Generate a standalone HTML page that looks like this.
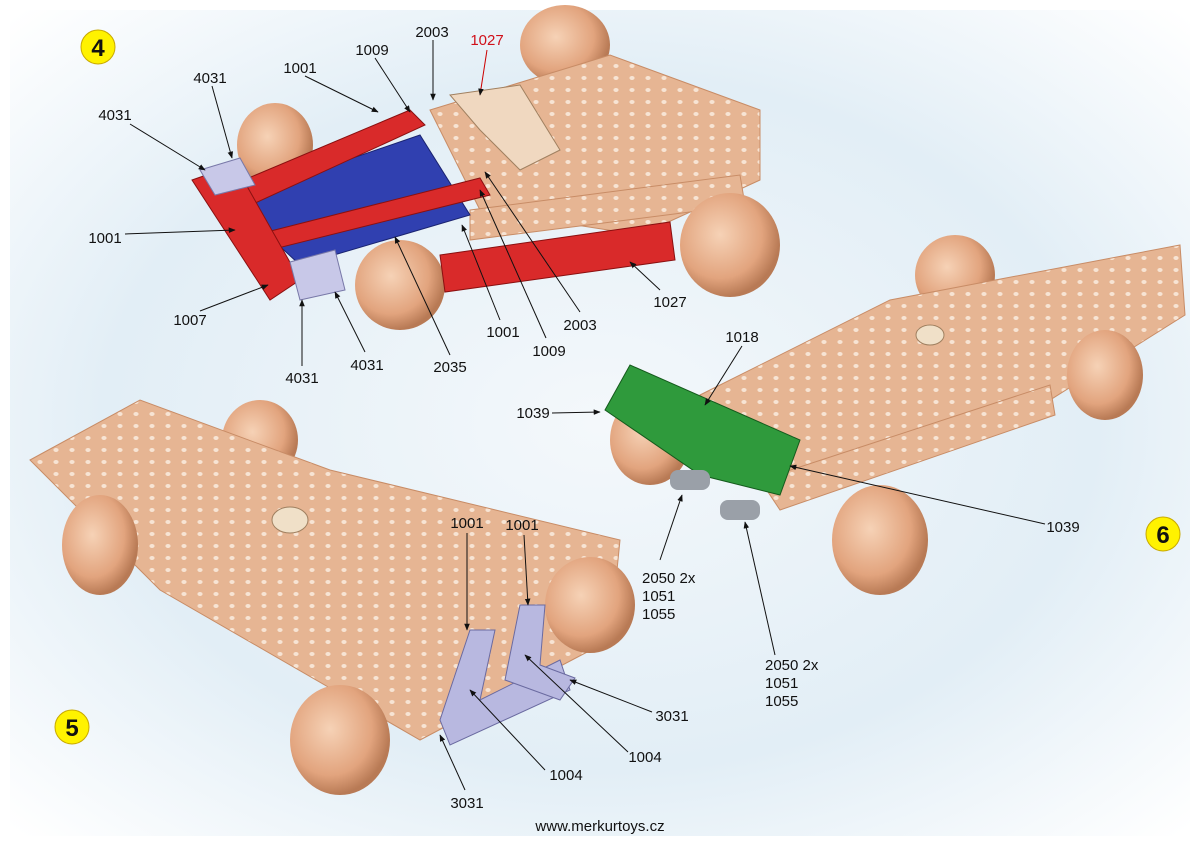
<!DOCTYPE html>
<html><head><meta charset="utf-8"><style>
html,body{margin:0;padding:0;background:#fff}
svg{display:block}
text{font-family:"Liberation Sans",sans-serif;font-size:15px;fill:#111}
</style></head><body>
<svg width="1200" height="846" viewBox="0 0 1200 846" xmlns="http://www.w3.org/2000/svg">
<defs>
<radialGradient id="bg" cx="0.5" cy="0.5" r="0.7">
<stop offset="0" stop-color="#f4f8fb"/><stop offset="0.6" stop-color="#e2eef6"/><stop offset="1" stop-color="#ffffff"/>
</radialGradient>
<radialGradient id="wh" cx="0.4" cy="0.4" r="0.6">
<stop offset="0" stop-color="#f6d2b6"/><stop offset="0.7" stop-color="#e2a47e"/><stop offset="1" stop-color="#b87a55"/>
</radialGradient>
<marker id="a" viewBox="0 0 10 10" refX="9" refY="5" markerWidth="7" markerHeight="7" orient="auto"><path d="M0,1 L10,5 L0,9 z" fill="#111"/></marker>
<pattern id="holes" width="16" height="12" patternUnits="userSpaceOnUse"><rect width="16" height="12" fill="#e6b593"/><ellipse cx="8" cy="6" rx="2.6" ry="2" fill="#f7e4d4"/></pattern>
</defs>
<rect x="10" y="10" width="1180" height="826" fill="url(#bg)"/>

<!-- Model 4 -->
<ellipse cx="565" cy="45" rx="45" ry="40" fill="url(#wh)"/>
<ellipse cx="275" cy="145" rx="38" ry="42" fill="url(#wh)"/>
<polygon points="430,110 610,55 760,110 760,180 640,235 480,210" fill="url(#holes)" stroke="#c88c66"/>
<polygon points="470,210 740,175 745,205 470,240" fill="url(#holes)" stroke="#c88c66"/>
<ellipse cx="730" cy="245" rx="50" ry="52" fill="url(#wh)"/>
<ellipse cx="400" cy="285" rx="45" ry="45" fill="url(#wh)"/>
<polygon points="230,200 420,135 470,215 300,265" fill="#3040b0" stroke="#1a2370"/>
<polygon points="220,190 410,110 425,125 240,210" fill="#d92a2a" stroke="#8a1010"/>
<polygon points="255,235 480,178 490,195 270,250" fill="#d92a2a" stroke="#8a1010"/>
<polygon points="440,255 670,222 675,260 445,292" fill="#d92a2a" stroke="#8a1010"/>
<polygon points="192,180 235,165 300,280 270,300" fill="#d92a2a" stroke="#8a1010"/>
<polygon points="200,170 240,158 255,185 215,195" fill="#c8c8e8" stroke="#7878a8"/>
<polygon points="290,262 335,250 345,290 300,300" fill="#c8c8e8" stroke="#7878a8"/>
<path d="M450,95 L520,85 560,150 520,170 480,130z" fill="#f0d8c0" stroke="#a08060"/>

<!-- Model 6 -->
<ellipse cx="955" cy="275" rx="40" ry="40" fill="url(#wh)"/>
<polygon points="700,395 890,300 1180,245 1185,315 1050,400 800,500" fill="url(#holes)" stroke="#c88c66"/>
<polygon points="760,480 1050,385 1055,415 780,510" fill="url(#holes)" stroke="#c88c66"/>
<ellipse cx="1105" cy="375" rx="38" ry="45" fill="url(#wh)"/>
<ellipse cx="880" cy="540" rx="48" ry="55" fill="url(#wh)"/>
<ellipse cx="650" cy="440" rx="40" ry="45" fill="url(#wh)"/>
<polygon points="605,410 630,365 800,440 780,495 700,475" fill="#2f9a3c" stroke="#145a1c"/>
<rect x="670" y="470" width="40" height="20" rx="8" fill="#9aa0a8"/>
<rect x="720" y="500" width="40" height="20" rx="8" fill="#9aa0a8"/>
<ellipse cx="930" cy="335" rx="14" ry="10" fill="#f0e0c8" stroke="#a08060"/>

<!-- Model 5 -->
<ellipse cx="260" cy="440" rx="38" ry="40" fill="url(#wh)"/>
<polygon points="30,460 140,400 330,470 620,540 610,640 420,740 160,590" fill="url(#holes)" stroke="#c88c66"/>
<ellipse cx="100" cy="545" rx="38" ry="50" fill="url(#wh)"/>
<ellipse cx="590" cy="605" rx="45" ry="48" fill="url(#wh)"/>
<ellipse cx="340" cy="740" rx="50" ry="55" fill="url(#wh)"/>
<ellipse cx="290" cy="520" rx="18" ry="13" fill="#f0e0c8" stroke="#a08060"/>
<polygon points="440,720 470,630 495,630 480,700 560,660 570,690 450,745" fill="#b8b8e0" stroke="#6a6aa0"/>
<polygon points="505,680 520,605 545,605 540,665 575,678 560,700" fill="#b8b8e0" stroke="#6a6aa0"/>

<!-- Badges -->
<circle cx="98" cy="47" r="17" fill="#fff200" stroke="#c8a800"/><text x="98" y="56" text-anchor="middle" style="font-size:24px;font-weight:bold">4</text>
<circle cx="72" cy="727" r="17" fill="#fff200" stroke="#c8a800"/><text x="72" y="736" text-anchor="middle" style="font-size:24px;font-weight:bold">5</text>
<circle cx="1163" cy="534" r="17" fill="#fff200" stroke="#c8a800"/><text x="1163" y="543" text-anchor="middle" style="font-size:24px;font-weight:bold">6</text>

<!-- leaders -->
<g stroke="#111" stroke-width="1" fill="none" marker-end="url(#a)">
<line x1="433" y1="40" x2="433" y2="100"/>
<line x1="487" y1="50" x2="480" y2="95" stroke="#c00"/>
<line x1="375" y1="58" x2="410" y2="112"/>
<line x1="305" y1="76" x2="378" y2="112"/>
<line x1="212" y1="86" x2="232" y2="158"/>
<line x1="130" y1="124" x2="205" y2="170"/>
<line x1="125" y1="234" x2="235" y2="230"/>
<line x1="200" y1="311" x2="268" y2="285"/>
<line x1="302" y1="366" x2="302" y2="300"/>
<line x1="365" y1="352" x2="335" y2="292"/>
<line x1="450" y1="355" x2="395" y2="237"/>
<line x1="500" y1="320" x2="462" y2="225"/>
<line x1="546" y1="338" x2="480" y2="190"/>
<line x1="580" y1="312" x2="485" y2="172"/>
<line x1="660" y1="290" x2="630" y2="262"/>
<line x1="742" y1="346" x2="705" y2="405"/>
<line x1="552" y1="413" x2="600" y2="412"/>
<line x1="1045" y1="524" x2="790" y2="466"/>
<line x1="660" y1="560" x2="682" y2="495"/>
<line x1="775" y1="655" x2="745" y2="522"/>
<line x1="467" y1="533" x2="467" y2="630"/>
<line x1="524" y1="535" x2="528" y2="605"/>
<line x1="652" y1="712" x2="570" y2="680"/>
<line x1="628" y1="752" x2="525" y2="655"/>
<line x1="545" y1="770" x2="470" y2="690"/>
<line x1="465" y1="790" x2="440" y2="735"/>
</g>

<!-- labels -->
<g text-anchor="middle">
<text x="432" y="37">2003</text><text x="487" y="45" style="fill:#d0101a">1027</text>
<text x="372" y="55">1009</text><text x="300" y="73">1001</text>
<text x="210" y="83">4031</text><text x="115" y="120">4031</text>
<text x="105" y="243">1001</text><text x="190" y="325">1007</text>
<text x="302" y="383">4031</text><text x="367" y="370">4031</text>
<text x="450" y="372">2035</text><text x="503" y="337">1001</text>
<text x="549" y="356">1009</text><text x="580" y="330">2003</text>
<text x="670" y="307">1027</text><text x="742" y="342">1018</text>
<text x="533" y="418">1039</text><text x="1063" y="532">1039</text>
<text x="467" y="528">1001</text><text x="522" y="530">1001</text>
<text x="672" y="721">3031</text><text x="645" y="762">1004</text>
<text x="566" y="780">1004</text><text x="467" y="808">3031</text>
<text x="600" y="831">www.merkurtoys.cz</text>
</g>
<text x="642" y="583">2050 2x</text><text x="642" y="601">1051</text><text x="642" y="619">1055</text>
<text x="765" y="670">2050 2x</text><text x="765" y="688">1051</text><text x="765" y="706">1055</text>
</svg>
</body></html>
